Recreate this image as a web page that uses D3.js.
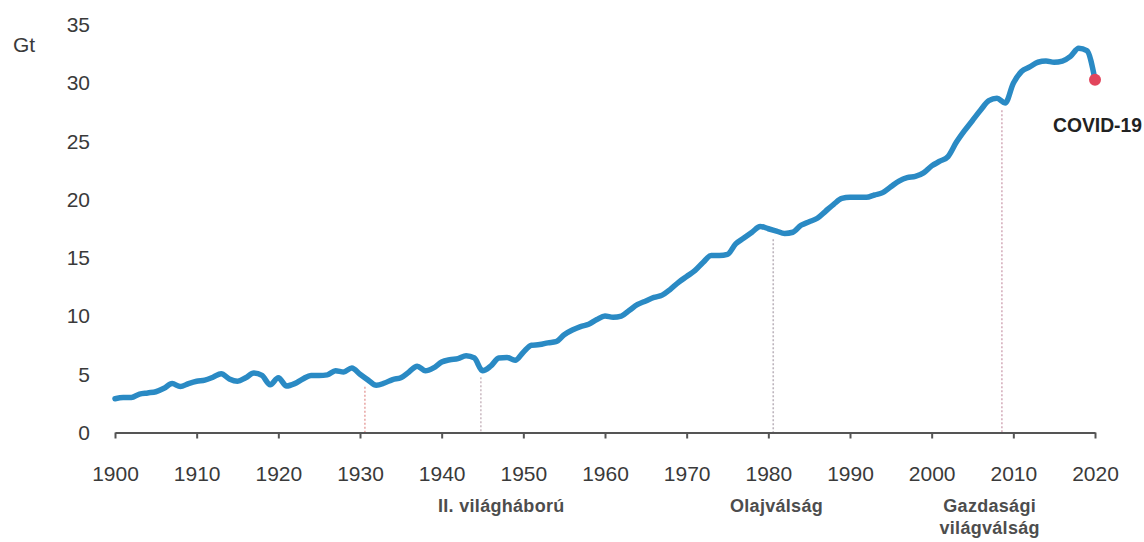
<!DOCTYPE html>
<html>
<head>
<meta charset="utf-8">
<script src="https://cdn.jsdelivr.net/npm/d3@7"></script>
<style>
  body { margin: 0; background: #fff; }
  svg { font-family: "Liberation Sans", Arial, sans-serif; }
</style>
</head>
<body>
<div id="chart"></div>
<script>
// years 1900..2020, global CO2 emissions (Gt)
var years = d3.range(1900, 2021);
var emissions = [
  2.9, 3.0, 3.0, 3.3, 3.4, 3.5, 3.8, 4.2, 3.95, 4.2,
  4.4, 4.5, 4.75, 5.05, 4.6, 4.4, 4.7, 5.1, 4.9, 4.1,
  4.7, 4.0, 4.2, 4.6, 4.9, 4.9, 4.95, 5.3, 5.2, 5.55,
  5.0, 4.5, 4.05, 4.25, 4.55, 4.7, 5.2, 5.7, 5.3, 5.55,
  6.05, 6.25, 6.35, 6.6, 6.4, 5.3, 5.7, 6.4, 6.45, 6.2,
  6.9, 7.5, 7.55, 7.7, 7.8, 8.4, 8.8, 9.1, 9.3, 9.7,
  10.0, 9.9, 10.0, 10.5, 11.0, 11.3, 11.6, 11.8, 12.3, 12.9,
  13.4, 13.9, 14.6, 15.2, 15.2, 15.3, 16.2, 16.7, 17.2, 17.7,
  17.5, 17.3, 17.1, 17.2, 17.8, 18.1, 18.4, 19.0, 19.6, 20.1,
  20.2, 20.2, 20.2, 20.4, 20.6, 21.1, 21.6, 21.9, 22.0, 22.3,
  22.9, 23.3, 23.7, 24.9, 25.9, 26.8, 27.7, 28.5, 28.7, 28.3,
  30.0, 31.0, 31.4, 31.8, 31.9, 31.8, 31.9, 32.3, 33.0, 32.8,
  30.3
];
var xTicks = d3.range(1900, 2021, 10);
var yTicks = [0, 5, 10, 15, 20, 25, 30, 35];

// crisis markers
var eventYears = [1930.6, 1944.8, 1980.6, 2008.6];
var eventLabels = [[], ["II. világháború"], ["Olajválság"], ["Gazdasági", "világválság"]];
var eventColors = ["#e9aaa8", "#cdbcc4", "#bdb5bd", "#d6afbd"];

var w = 1144, h = 542;
var svg = d3.select("#chart").append("svg")
    .attr("width", w)
    .attr("height", h);

var x = d3.scaleLinear().domain([1900, 2020]).range([115, 1095]);
var y = d3.scaleLinear().domain([0, 35]).range([432.5, 25]);

var data = years.map(function (yr, i) { return { year: yr, value: emissions[i] }; });

// value at a fractional year (for event line tops)
function valueAt(yr) {
  var i = Math.floor(yr - 1900);
  var t = yr - 1900 - i;
  return emissions[i] * (1 - t) + emissions[i + 1] * t;
}

// event dotted lines
svg.selectAll(".event")
    .data(eventYears)
  .enter().append("line")
    .attr("class", "event")
    .attr("x1", function (d) { return x(d); })
    .attr("x2", function (d) { return x(d); })
    .attr("y1", function (d) { return y(valueAt(d)) + 9; })
    .attr("y2", y(0))
    .attr("stroke", function (d, i) { return eventColors[i]; })
    .attr("stroke-width", 1.6)
    .attr("stroke-dasharray", "2,2");

// x axis
var xAxis = svg.append("g")
    .attr("transform", "translate(0," + y(0) + ")")
    .call(d3.axisBottom(x).tickValues(xTicks).tickFormat(d3.format("d"))
      .tickSize(6).tickSizeOuter(0).tickPadding(28));
xAxis.select(".domain").attr("stroke", "#555").attr("stroke-width", 2.2);
xAxis.selectAll(".tick line").attr("stroke", "#555").attr("stroke-width", 2);
xAxis.selectAll(".tick text").attr("fill", "#3a3a3a").style("font-size", "21px");

// y axis (labels only)
var yAxis = svg.append("g")
    .attr("transform", "translate(93,0)")
    .call(d3.axisLeft(y).tickValues(yTicks).tickSize(0).tickPadding(3));
yAxis.select(".domain").remove();
yAxis.selectAll(".tick text").attr("fill", "#3a3a3a").style("font-size", "21px");

svg.append("text")
    .attr("x", 13)
    .attr("y", 52)
    .attr("fill", "#3a3a3a")
    .style("font-size", "21px")
    .text("Gt");

// emissions line
var line = d3.line()
    .x(function (d) { return x(d.year); })
    .y(function (d) { return y(d.value); })
    .curve(d3.curveMonotoneX);

svg.append("path")
    .datum(data)
    .attr("d", line)
    .attr("fill", "none")
    .attr("stroke", "#2a8ac4")
    .attr("stroke-width", 5.5)
    .attr("stroke-linejoin", "round")
    .attr("stroke-linecap", "round");

// covid point
var last = data[data.length - 1];
svg.append("circle")
    .attr("cx", x(last.year))
    .attr("cy", y(last.value))
    .attr("r", 6)
    .attr("fill", "#e2455c");

svg.append("text")
    .attr("x", x(last.year) - 42)
    .attr("y", 132)
    .attr("fill", "#222")
    .attr("font-weight", "bold")
    .attr("textLength", 89)
    .attr("lengthAdjust", "spacingAndGlyphs")
    .style("font-size", "20px")
    .text("COVID-19");

// event labels
var labelYears = [null, 1947.3, 1981.0, 2007.1];
eventLabels.forEach(function (lines, i) {
  lines.forEach(function (txt, j) {
    svg.append("text")
        .attr("x", x(labelYears[i]))
        .attr("y", 512 + j * 22)
        .attr("text-anchor", "middle")
        .attr("fill", "#4d4d4d")
        .attr("font-weight", "bold")
        .attr("letter-spacing", "0.3px")
        .style("font-size", "18px")
        .text(txt);
  });
});
</script>
</body>
</html>
